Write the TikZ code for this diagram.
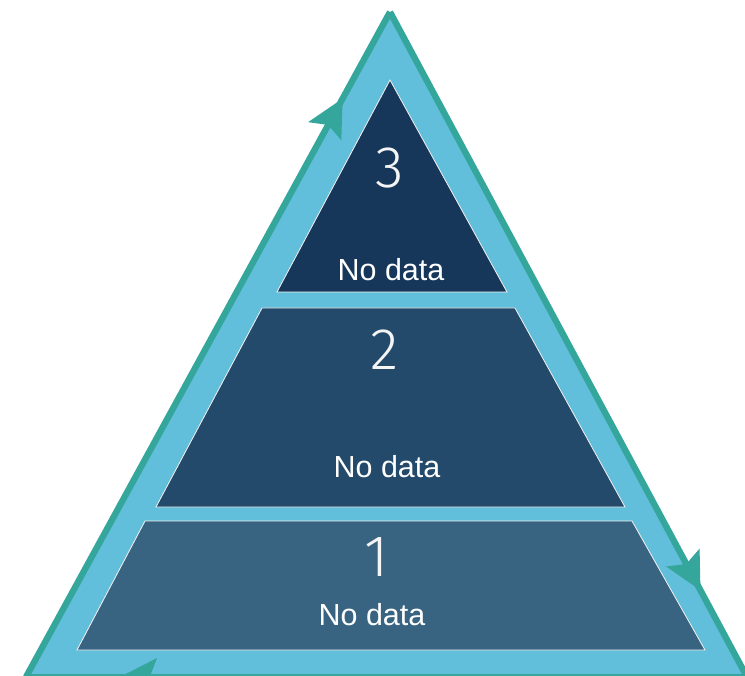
\documentclass[tikz,border=0pt]{standalone}
\usepackage{fontspec}
\setmainfont{Liberation Sans}
\newfontfamily\numfont{Fira Sans Light}
\usetikzlibrary{arrows.meta,decorations.markings}
\definecolor{rimteal}{HTML}{35A69B}
\definecolor{skyfill}{HTML}{62BFDB}
\definecolor{tierthree}{HTML}{17375A}
\definecolor{tiertwo}{HTML}{234A6A}
\definecolor{tierone}{HTML}{386482}

\begin{document}
\begin{tikzpicture}[
    x=0.03cm, y=-0.03cm,
    flow/.style={draw=rimteal, line width=1.9mm, line join=miter,
        postaction={decorate},
        decoration={markings, mark=at position 0.87 with {\arrow[rimteal]{Stealth[length=11mm, width=11mm, inset=2mm]}}}},
    tier/.style={draw=white!90!gray, line width=0.7pt},
    tiernum/.style={inner sep=0pt, text=white!92!gray, font=\numfont\fontsize{50}{56}\selectfont},
    tierlabel/.style={inner sep=0pt, text=white, font=\fontsize{26}{30}\selectfont}
]
    \useasboundingbox (0,0) rectangle (745,676);

    \coordinate (apex) at (390,12);
    \coordinate (bl) at (26,677);
    \coordinate (br) at (747,677);

    \fill[skyfill] (bl) -- (apex) -- (br) -- cycle;
    \draw[flow] (bl) -- (apex);
    \draw[flow] (apex) -- (br);
    \draw[flow] (br) -- (bl);

    \draw[tier, fill=tierthree] (390,80) -- (507,292) -- (277,292) -- cycle;
    \draw[tier, fill=tiertwo] (262,308) -- (515,308) -- (625,507) -- (156,507) -- cycle;
    \draw[tier, fill=tierone] (145,521) -- (632,521) -- (705,650) -- (77,650) -- cycle;

    \node[tiernum] (n3) at (390,168) {3};
    \node[tierlabel] (d3) at (391,270) {No data};
    \node[tiernum] (n2) at (385,350) {2};
    \node[tierlabel] (d2) at (387,467) {No data};
    \node[tiernum] (n1) at (377,557) {1};
    \node[tierlabel] (d1) at (372,615) {No data};
\end{tikzpicture}
\end{document}
